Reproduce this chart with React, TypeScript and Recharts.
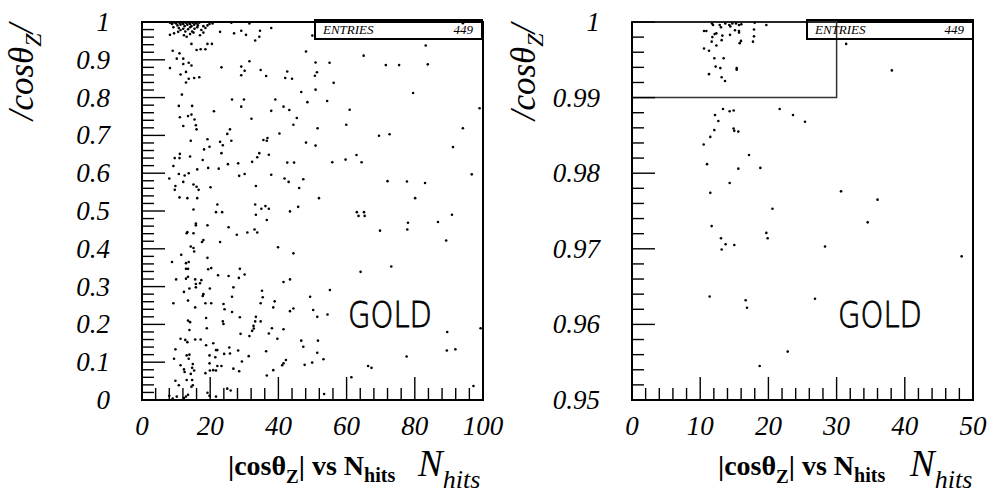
import React from 'react';
import { ScatterChart, Scatter, XAxis, YAxis, ReferenceArea } from 'recharts';

const SERIF = '"Liberation Serif", "Times New Roman", serif';
const SANS = '"DejaVu Sans", "Liberation Sans", Arial, sans-serif';

// [N_hits, |cos theta_Z|] (0-100 x 0-1)
const fullTopCluster: [number, number][] = [
  [8.2, 0.998], [8.8, 0.995], [9.4, 0.999], [10.0, 0.996], [10.4, 0.991], [11.0, 0.998], [11.3, 0.993],
  [11.7, 0.999], [12.1, 0.995], [12.5, 0.989], [12.9, 0.998], [13.3, 0.993], [13.7, 0.999], [14.1, 0.995],
  [14.5, 0.989], [14.9, 0.998], [15.3, 0.993], [15.6, 0.999], [16.0, 0.996], [16.4, 0.991], [16.8, 0.998],
  [10.8, 0.984], [11.3, 0.979], [12.1, 0.982], [12.7, 0.975], [13.5, 0.981], [14.1, 0.986], [14.7, 0.975],
  [15.4, 0.982], [16.2, 0.986], [17.4, 0.979], [18.0, 0.989], [18.6, 0.984], [19.2, 0.991], [19.8, 0.995],
  [20.7, 0.996], [9.2, 0.986], [8.2, 0.966], [9.4, 0.970], [10.6, 0.974], [12.3, 0.965], [13.1, 0.961],
  [14.1, 0.968], [15.1, 0.972], [17.0, 0.965], [18.0, 0.972], [22.9, 0.974], [26.2, 0.998], [31.5, 0.996],
  [27.0, 0.970], [29.1, 0.977], [30.5, 0.966], [14.5, 0.942], [19.2, 0.942], [20.5, 0.942],
  [34.6, 0.977], [34.4, 0.961], [33.2, 0.951], [37.9, 0.984], [49.95, 0.964], [94.1, 0.997],
];

const fullUpper: [number, number][] = [
  [16.0, 0.926], [17.2, 0.928], [18.6, 0.928], [9.0, 0.924], [11.0, 0.917], [48.1, 0.922], [10.2, 0.903],
  [12.1, 0.903], [13.7, 0.892], [14.5, 0.885], [12.1, 0.889], [8.2, 0.878], [23.3, 0.880], [31.5, 0.896],
  [29.1, 0.882], [30.1, 0.871], [29.1, 0.859], [34.8, 0.873], [36.4, 0.857], [42.6, 0.869], [42.0, 0.852],
  [44.0, 0.850], [12.9, 0.868], [11.3, 0.861], [13.7, 0.850], [12.9, 0.840], [15.3, 0.852], [16.8, 0.854],
  [11.7, 0.808], [46.7, 0.815], [48.5, 0.788], [26.4, 0.795], [29.9, 0.795], [39.1, 0.795], [29.1, 0.776],
  [41.5, 0.776], [43.2, 0.767], [37.9, 0.765], [21.1, 0.764], [10.8, 0.778], [14.7, 0.778], [11.1, 0.748],
  [13.5, 0.751], [14.5, 0.755], [15.4, 0.742], [12.1, 0.725], [15.8, 0.727], [16.0, 0.716], [32.1, 0.744],
  [45.4, 0.746], [44.4, 0.728], [25.8, 0.716], [25.0, 0.704], [40.3, 0.705], [14.3, 0.686], [19.2, 0.690],
  [26.2, 0.686], [22.9, 0.683], [23.7, 0.674], [35.6, 0.688], [36.8, 0.693], [36.6, 0.686], [48.1, 0.681],
  [19.8, 0.670], [18.2, 0.663], [23.3, 0.653], [34.4, 0.653], [33.8, 0.642], [37.2, 0.649], [9.6, 0.640],
  [11.0, 0.640], [11.1, 0.651], [14.1, 0.644], [17.8, 0.635], [9.2, 0.619], [25.2, 0.624], [28.2, 0.626],
  [32.3, 0.630], [42.6, 0.628], [44.6, 0.628], [19.4, 0.614], [22.5, 0.612], [16.2, 0.610], [10.8, 0.598],
  [12.5, 0.594], [13.7, 0.600], [8.0, 0.586], [12.1, 0.577], [9.8, 0.566], [9.6, 0.556], [15.1, 0.570],
  [16.0, 0.564], [16.6, 0.556], [20.1, 0.563], [28.5, 0.593], [30.1, 0.598], [33.4, 0.566], [37.9, 0.596],
  [41.8, 0.586], [43.0, 0.577], [47.3, 0.584], [46.1, 0.561], [11.0, 0.536], [13.3, 0.534], [16.2, 0.534],
  [22.1, 0.517], [15.1, 0.504], [33.2, 0.517], [35.0, 0.506], [36.2, 0.513], [37.2, 0.506], [45.8, 0.511],
  [65.0, 0.911], [83.2, 0.938], [50.9, 0.893], [55.0, 0.892], [71.5, 0.886], [75.4, 0.886], [83.8, 0.888],
  [51.3, 0.867], [50.7, 0.858], [56.2, 0.839], [50.9, 0.821], [54.3, 0.791], [79.5, 0.812], [60.9, 0.768],
  [99.0, 0.772], [51.5, 0.719], [59.9, 0.728], [69.5, 0.699], [72.6, 0.703], [94.1, 0.719], [50.9, 0.673],
  [91.2, 0.669], [62.9, 0.648], [55.8, 0.629], [59.7, 0.636], [64.4, 0.629], [96.7, 0.597], [72.0, 0.579],
  [77.7, 0.578], [83.0, 0.574], [51.9, 0.534], [80.1, 0.534],
];

const fullLower: [number, number][] = [
  [21.7, 0.497], [23.5, 0.497], [33.4, 0.490], [43.4, 0.499], [36.6, 0.476], [15.8, 0.467], [15.8, 0.462],
  [19.2, 0.462], [25.4, 0.457], [27.8, 0.437], [30.9, 0.443], [33.0, 0.451], [33.8, 0.443], [13.3, 0.444],
  [13.1, 0.441], [15.1, 0.441], [18.0, 0.423], [17.6, 0.418], [22.9, 0.418], [14.3, 0.406], [15.1, 0.402],
  [15.3, 0.393], [39.9, 0.404], [44.4, 0.388], [11.5, 0.384], [8.8, 0.365], [13.7, 0.365], [12.9, 0.362],
  [19.2, 0.376], [12.9, 0.347], [13.5, 0.347], [19.4, 0.346], [20.3, 0.349], [22.3, 0.330], [28.7, 0.347],
  [30.1, 0.332], [25.4, 0.328], [28.4, 0.323], [10.0, 0.319], [12.9, 0.321], [13.5, 0.326], [15.6, 0.319],
  [17.4, 0.317], [17.0, 0.309], [15.8, 0.307], [15.8, 0.298], [19.9, 0.295], [13.9, 0.295], [12.3, 0.286],
  [26.8, 0.298], [35.2, 0.289], [35.4, 0.272], [41.5, 0.312], [43.4, 0.319], [18.0, 0.280], [17.8, 0.275],
  [26.4, 0.273], [49.3, 0.273], [9.2, 0.256], [13.5, 0.263], [18.6, 0.256], [20.3, 0.256], [23.9, 0.254],
  [24.2, 0.240], [26.4, 0.233], [34.8, 0.256], [38.9, 0.261], [38.5, 0.245], [43.4, 0.235], [44.4, 0.242],
  [15.6, 0.245], [18.8, 0.217], [13.5, 0.210], [14.1, 0.206], [23.7, 0.208], [23.9, 0.201], [28.7, 0.219],
  [33.4, 0.220], [33.2, 0.208], [34.8, 0.208], [32.7, 0.196], [32.3, 0.183], [32.8, 0.189], [31.5, 0.169],
  [28.9, 0.175], [38.1, 0.190], [41.5, 0.187], [37.2, 0.176], [39.7, 0.162], [13.9, 0.185], [19.0, 0.190],
  [11.3, 0.162], [12.7, 0.159], [13.3, 0.153], [15.6, 0.160], [17.2, 0.160], [18.8, 0.145], [20.9, 0.150],
  [21.7, 0.132], [22.1, 0.132], [25.6, 0.139], [28.2, 0.131], [9.8, 0.134], [9.4, 0.109], [13.1, 0.118],
  [13.9, 0.120], [13.7, 0.109], [14.9, 0.095], [19.8, 0.118], [21.5, 0.113], [24.1, 0.122], [25.8, 0.123],
  [29.3, 0.102], [31.3, 0.116], [36.4, 0.129], [11.3, 0.092], [12.3, 0.081], [12.5, 0.074], [14.7, 0.085],
  [15.3, 0.078], [19.8, 0.097], [20.9, 0.079], [22.1, 0.090], [23.3, 0.090], [26.8, 0.083], [28.5, 0.076],
  [41.1, 0.092], [41.5, 0.097], [42.2, 0.106], [36.6, 0.065], [38.5, 0.079], [47.7, 0.093], [9.8, 0.051],
  [10.8, 0.039], [13.1, 0.053], [14.7, 0.053], [14.3, 0.069], [14.5, 0.035], [14.9, 0.039], [18.6, 0.071],
  [19.9, 0.078], [21.7, 0.078], [8.0, 0.011], [9.0, 0.004], [10.2, 0.009], [12.3, 0.005], [12.9, 0.009],
  [13.5, 0.014], [19.2, 0.019], [19.8, 0.011], [21.7, 0.009], [25.0, 0.030], [26.0, 0.025],
  [63.0, 0.497], [63.5, 0.487], [65.1, 0.497], [65.3, 0.487], [69.8, 0.448], [78.0, 0.469], [77.8, 0.451],
  [86.8, 0.471], [90.9, 0.490], [89.2, 0.422], [64.1, 0.339], [73.1, 0.353], [55.1, 0.291], [50.2, 0.238],
  [51.4, 0.220], [54.4, 0.226], [46.7, 0.157], [47.3, 0.141], [51.6, 0.157], [51.4, 0.125], [53.2, 0.108],
  [49.9, 0.099], [77.6, 0.115], [66.3, 0.090], [67.3, 0.085], [61.4, 0.060], [53.4, 0.016], [89.5, 0.180],
  [89.4, 0.131], [91.9, 0.134], [99.3, 0.190], [97.2, 0.037],
];

// [N_hits, |cos theta_Z|] (0-50 x 0.95-1)
const zoomAbove: [number, number][] = [
  [11.73, 0.9998], [11.88, 0.9996], [12.86, 0.9996], [13.05, 0.9993], [13.68, 0.9998], [14.27, 0.9996],
  [14.42, 0.9994], [14.71, 0.9998], [15.25, 0.9998], [15.69, 0.9996], [16.03, 0.9997], [17.99, 0.9999],
  [19.7, 0.9996], [10.56, 0.9988], [10.9, 0.9988], [12.12, 0.9984], [12.37, 0.9985], [13.25, 0.9982],
  [14.37, 0.9983], [15.1, 0.9989], [15.69, 0.9988], [15.69, 0.9986], [17.89, 0.999], [17.89, 0.9981],
  [11.78, 0.998], [13.15, 0.9976], [11.68, 0.9974], [12.37, 0.9969], [15.98, 0.9975], [15.79, 0.9972],
  [17.74, 0.9974], [10.56, 0.9965], [11.29, 0.9962], [12.07, 0.9952], [13.44, 0.9952], [12.27, 0.9941],
  [12.95, 0.9939], [15.35, 0.9939], [15.35, 0.9937], [11.29, 0.9931], [13.15, 0.9927], [13.64, 0.9922],
  [31.4, 0.9971], [38.1, 0.9936],
];

const zoomBelow: [number, number][] = [
  [13.34, 0.9885], [14.32, 0.9882], [14.91, 0.9883], [21.65, 0.9885], [23.61, 0.9877], [12.17, 0.9877],
  [12.66, 0.9869], [12.07, 0.9857], [14.9, 0.9859], [15.0, 0.9856], [15.59, 0.9855], [11.48, 0.9848],
  [10.51, 0.9838], [17.16, 0.9824], [11.0, 0.9812], [15.59, 0.9806], [18.82, 0.9807], [14.32, 0.9787],
  [11.48, 0.9774], [20.6, 0.9753], [25.37, 0.9868], [30.65, 0.9776], [36.0, 0.9765], [11.68, 0.973],
  [13.05, 0.9714], [13.73, 0.9706], [13.15, 0.9699], [15.0, 0.9705], [19.7, 0.9721], [19.89, 0.9714],
  [11.39, 0.9637], [16.67, 0.9632], [16.86, 0.9622], [18.72, 0.9545], [22.83, 0.9564], [34.56, 0.9735],
  [28.3, 0.9703], [48.34, 0.969], [26.83, 0.9634],
];

const fullXTicks = Array.from({ length: 26 }, (_, i) => i * 4);
const fullYTicks = Array.from({ length: 51 }, (_, i) => Number((i * 0.02).toFixed(2)));
const zoomXTicks = Array.from({ length: 26 }, (_, i) => i * 2);
const zoomYTicks = Array.from({ length: 26 }, (_, i) => Number((0.95 + i * 0.002).toFixed(3)));

const toRows = (pts: [number, number][]) => pts.map(([n, c]) => ({ n, c }));
const fullData = toRows([...fullTopCluster, ...fullUpper, ...fullLower]);
const zoomData = toRows([...zoomAbove, ...zoomBelow]);

const fmt = (v: number) => String(Number(v.toFixed(3)));

const labelStyle = { fontFamily: SERIF, fontStyle: 'italic' as const, fontSize: 27, fill: '#000' };

// ROOT style: ticks point into the frame, every 5th tick is a labelled major
const XTick = ({ x, y, index, payload }: any) => {
  const major = index % 5 === 0;
  return (
    <g>
      <line x1={x} x2={x} y1={y} y2={y - (major ? 23 : 12)} stroke="#000" strokeWidth={1.4} />
      {major && (
        <text x={x} y={y + 35} textAnchor="middle" {...labelStyle}>
          {fmt(payload.value)}
        </text>
      )}
    </g>
  );
};

const YTick = ({ x, y, index, payload }: any) => {
  const major = index % 5 === 0;
  return (
    <g>
      <line x1={x} x2={x + (major ? 23 : 12)} y1={y} y2={y} stroke="#000" strokeWidth={1.4} />
      {major && (
        <text x={x - 32} y={y + 9} textAnchor="end" {...labelStyle}>
          {fmt(payload.value)}
        </text>
      )}
    </g>
  );
};

const Dot = (props: any) => <circle cx={props.cx} cy={props.cy} r={1.3} fill="#000" />;

interface PanelProps {
  data: { n: number; c: number }[];
  width: number;
  left: number;
  right: number;
  xMax: number;
  yMin: number;
  xTicks: number[];
  yTicks: number[];
  children?: React.ReactNode;
}

const Panel = ({ data, width, left, right, xMax, yMin, xTicks, yTicks, children }: PanelProps) => (
  <ScatterChart width={width} height={493} margin={{ top: 22, right, bottom: 53, left }}>
    <XAxis
      type="number"
      dataKey="n"
      domain={[0, xMax]}
      ticks={xTicks}
      interval={0}
      height={40}
      tickSize={0}
      tickMargin={0}
      tickLine={false}
      axisLine={{ stroke: '#000', strokeWidth: 2 }}
      tick={(p: any) => <XTick {...p} />}
    />
    <YAxis
      type="number"
      dataKey="c"
      domain={[yMin, 1]}
      ticks={yTicks}
      interval={0}
      width={40}
      tickSize={0}
      tickMargin={0}
      tickLine={false}
      axisLine={{ stroke: '#000', strokeWidth: 2 }}
      tick={(p: any) => <YTick {...p} />}
    />
    <Scatter data={data} shape={Dot} isAnimationActive={false} />
    <ReferenceArea x1={0} x2={xMax} y1={yMin} y2={1} fill="none" stroke="#000" strokeWidth={2} ifOverflow="visible" />
    {children}
  </ScatterChart>
);

const XTitle = ({ x, nx }: { x: number; nx: number }) => (
  <g>
    <text x={x} y={475} fontFamily={SERIF} fontWeight="bold" fontSize={28} fill="#000">
      |cosθ<tspan fontSize={19} dy={8}>Z</tspan>
      <tspan fontSize={28} dy={-8}>| vs N</tspan>
      <tspan fontSize={20} dy={7}>hits</tspan>
    </text>
    <text x={nx} y={476} fontFamily={SERIF} fontStyle="italic" fontSize={37} fill="#000">
      N<tspan fontSize={26} dy={12}>hits</tspan>
    </text>
  </g>
);

const YTitle = ({ x }: { x: number }) => (
  <text
    transform={`translate(${x},72) rotate(-90)`}
    textAnchor="middle"
    fontFamily={SERIF}
    fontStyle="italic"
    fontSize={35}
    fill="#000"
  >
    /cosθ<tspan fontSize={24} dy={8}>Z</tspan>
    <tspan fontSize={35} dy={-8}>/</tspan>
  </text>
);

const StatBox = ({ x, w }: { x: number; w: number }) => (
  <g>
    <rect x={x} y={20} width={w} height={19} fill="none" stroke="#000" strokeWidth={2} />
    <text x={x + 8} y={34} fontFamily={SERIF} fontStyle="italic" fontSize={13} fill="#000">ENTRIES</text>
    <text x={x + w - 9} y={34} textAnchor="end" fontFamily={SERIF} fontStyle="italic" fontSize={13} fill="#000">449</text>
  </g>
);

const Gold = ({ x }: { x: number }) => (
  <text
    x={x}
    y={327}
    fontFamily={SANS}
    fontWeight={200}
    fontSize={36}
    textLength={84}
    lengthAdjust="spacingAndGlyphs"
    fill="#000"
    stroke="#000"
    strokeWidth={0.8}
  >
    GOLD
  </text>
);

export default function App() {
  return (
    <div style={{ position: 'absolute', left: 0, top: 0, width: 991, height: 493, background: '#fff' }}>
      <style>{'.recharts-surface{overflow:visible}'}</style>
      <div style={{ position: 'absolute', left: 0, top: 0 }}>
        <Panel data={fullData} width={495} left={102} right={12} xMax={100} yMin={0} xTicks={fullXTicks} yTicks={fullYTicks} />
      </div>
      <div style={{ position: 'absolute', left: 495, top: 0 }}>
        <Panel data={zoomData} width={496} left={97} right={18} xMax={50} yMin={0.95} xTicks={zoomXTicks} yTicks={zoomYTicks}>
          <ReferenceArea x1={0} x2={30} y1={0.99} y2={1} fill="none" stroke="#333" strokeWidth={1.5} ifOverflow="visible" />
        </Panel>
      </div>
      <svg width={991} height={493} style={{ position: 'absolute', left: 0, top: 0, pointerEvents: 'none' }}>
        <YTitle x={33} />
        <YTitle x={535} />
        <XTitle x={228} nx={418} />
        <XTitle x={718} nx={910} />
        <StatBox x={315} w={167} />
        <StatBox x={807} w={166} />
        <Gold x={348} />
        <Gold x={838} />
      </svg>
    </div>
  );
}
